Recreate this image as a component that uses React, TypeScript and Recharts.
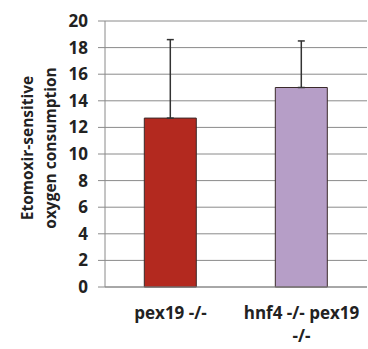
import { BarChart, Bar, XAxis, YAxis, CartesianGrid, ErrorBar, Cell } from "recharts";

const categories = ["pex19 -/-", "hnf4 -/- pex19 -/-"];
const means = [12.7, 15.0];
const errUp = [5.9, 3.5];
const barColors = ["#b3291f", "#b69ec7"];
const yTicks = [0, 2, 4, 6, 8, 10, 12, 14, 16, 18, 20];
const yLabelLines = ["Etomoxir-sensitive", "oxygen consumption"];
const xLabelLines: Record<string, string[]> = {
  "pex19 -/-": ["pex19 -/-"],
  "hnf4 -/- pex19 -/-": ["hnf4 -/- pex19", "-/-"]
};

const data = categories.map((name, i) => ({
  name,
  value: means[i],
  err: [0, errUp[i]]
}));

const font = "'Open Sans', sans-serif";

function XTick(props: any) {
  const { x, y, payload } = props;
  const lines = xLabelLines[payload.value] || [payload.value];
  return (
    <g>
      {lines.map((ln, i) => (
        <text
          key={i}
          x={x}
          y={y + 32 + i * 23}
          textAnchor="middle"
          fontFamily={font}
          fontWeight="bold"
          fontSize={17}
          fill="#222"
        >
          {ln}
        </text>
      ))}
    </g>
  );
}

function YLabel() {
  const cy = 148;
  return (
    <g>
      {yLabelLines.map((ln, i) => {
        const cx = 27 + i * 23;
        return (
          <text
            key={i}
            x={cx}
            y={cy}
            transform={`rotate(-90 ${cx} ${cy})`}
            textAnchor="middle"
            dominantBaseline="central"
            fontFamily={font}
            fontWeight="bold"
            fontSize={15.5}
            fill="#222"
          >
            {ln}
          </text>
        );
      })}
    </g>
  );
}

export default function App() {
  return (
    <div style={{ position: "absolute", left: 0, top: 0, width: 368, height: 349, background: "#fff" }}>
      <BarChart
        width={368}
        height={349}
        data={data}
        margin={{ top: 21, right: 1, bottom: 0, left: 0 }}
        barCategoryGap="30%"
      >
        <CartesianGrid vertical={false} stroke="#8a8a8a" strokeWidth={1} />
        <XAxis
          dataKey="name"
          height={62}
          tickLine={false}
          tickSize={0}
          tickMargin={0}
          axisLine={{ stroke: "#8a8a8a" }}
          tick={<XTick />}
          interval={0}
        />
        <YAxis
          width={105}
          domain={[0, 20]}
          ticks={yTicks}
          interval={0}
          tickSize={7}
          tickMargin={10}
          axisLine={{ stroke: "#8a8a8a" }}
          tickLine={{ stroke: "#8a8a8a" }}
          tick={{ fontFamily: font, fontWeight: "bold", fontSize: 17, fill: "#222" }}
          label={<YLabel />}
        />
        <Bar dataKey="value" stroke="#3a2a2a" strokeWidth={1} isAnimationActive={false}>
          {data.map((d, i) => (
            <Cell key={d.name} fill={barColors[i]} />
          ))}
          <ErrorBar dataKey="err" direction="y" width={3.5} stroke="#333" strokeWidth={1.5} isAnimationActive={false} />
        </Bar>
      </BarChart>
    </div>
  );
}
